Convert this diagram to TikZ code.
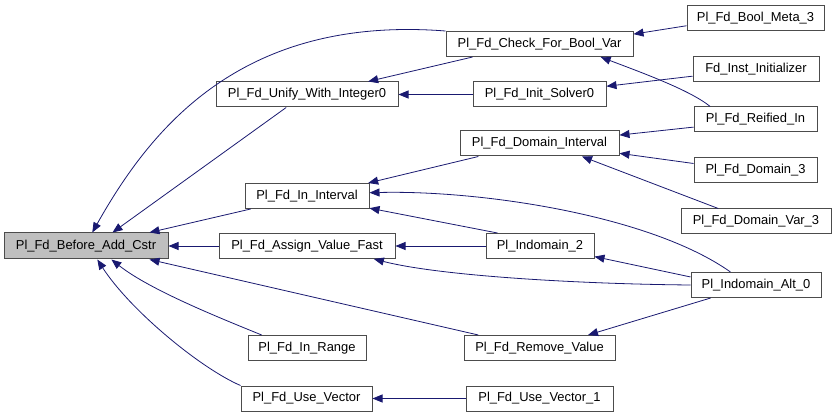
\documentclass[tikz,border=0pt]{standalone}
\usepackage{fontspec}
\setmainfont{Liberation Sans}
\usetikzlibrary{arrows.meta}
\definecolor{callBlue}{HTML}{191970}
\definecolor{rootGray}{HTML}{BFBFBF}

\begin{document}
\begin{tikzpicture}[x=0.75pt,y=-0.75pt,font=\fontsize{9.7}{11}\selectfont,
  fnbox/.style={draw=black!70,line width=0.75pt,inner sep=0pt,minimum height=18.75pt,fill=white},
  call/.style={draw=callBlue,line width=0.6pt,-{Triangle[length=7.5pt,width=6pt]}}]
  \useasboundingbox (0,0) rectangle (836,417);

  % functions
  \node[fnbox,fill=rootGray,minimum width=123pt,minimum height=19.5pt] (before) at (86,246) {Pl\_Fd\_Before\_Add\_Cstr};
  \foreach \nm/\cx/\cy/\w/\lab in {
      check/539.5/44/140.25/Pl\_Fd\_Check\_For\_Bool\_Var,
      unify/307/94.5/136.5/Pl\_Fd\_Unify\_With\_Integer0,
      initsolver/539.5/94.5/99.75/Pl\_Fd\_Init\_Solver0,
      domint/539.5/143.5/119.25/Pl\_Fd\_Domain\_Interval,
      ininterval/307/196/93/Pl\_Fd\_In\_Interval,
      assign/307/246/132/Pl\_Fd\_Assign\_Value\_Fast,
      indomain2/540/246/81/Pl\_Indomain\_2,
      inrange/307/348/88.5/Pl\_Fd\_In\_Range,
      remove/539.5/348/113.25/Pl\_Fd\_Remove\_Value,
      usevec/306.5/398.5/98.25/Pl\_Fd\_Use\_Vector,
      usevec1/539.5/398.5/110.25/Pl\_Fd\_Use\_Vector\_1,
      boolmeta/755.5/18.5/102.75/Pl\_Fd\_Bool\_Meta\_3,
      inst/756/69.5/94.5/Fd\_Inst\_Initializer,
      reified/755.5/119.5/92.25/Pl\_Fd\_Reified\_In,
      domain3/755.5/170/92.25/Pl\_Fd\_Domain\_3,
      domvar3/756/221.5/112.5/Pl\_Fd\_Domain\_Var\_3,
      alt0/756/285/97.5/Pl\_Indomain\_Alt\_0} {
    \node[fnbox,minimum width=\w pt] (\nm) at (\cx,\cy) {\lab};
  }

  % straight calls
  \foreach \s/\sa/\t/\ta in {
      unify/212/before/27, ininterval/193/before/12, assign/180/before/0,
      remove/168/before/348, check/191/unify/12, initsolver/180/unify/0,
      boolmeta/186/check/6, inst/186/initsolver/7, domint/192/ininterval/12,
      indomain2/163/ininterval/349, reified/187/domint/6, domain3/174/domint/353,
      domvar3/161/domint/343, indomain2/180/assign/0, alt0/173/indomain2/349,
      alt0/196/remove/15, usevec1/180/usevec/0} {
    \draw[call] (\s.\sa) -- (\t.\ta);
  }

  % curved calls
  \draw[call] (check.north west) .. controls (240,15) and (150,130) .. (before.65);
  \draw[call] (inrange.164) .. controls (220,318) and (150,290) .. (before.332);
  \draw[call] (usevec.north west) .. controls (200,368) and (130,310) .. (before.310);
  \draw[call] (reified.164) .. controls (690,90) and (640,72) .. (check.348);
  \draw[call] (alt0.153) .. controls (650,215) and (480,190) .. (ininterval.3);
  \draw[call] (alt0.west) .. controls (580,284) and (440,276) .. (assign.349);
\end{tikzpicture}
\end{document}
